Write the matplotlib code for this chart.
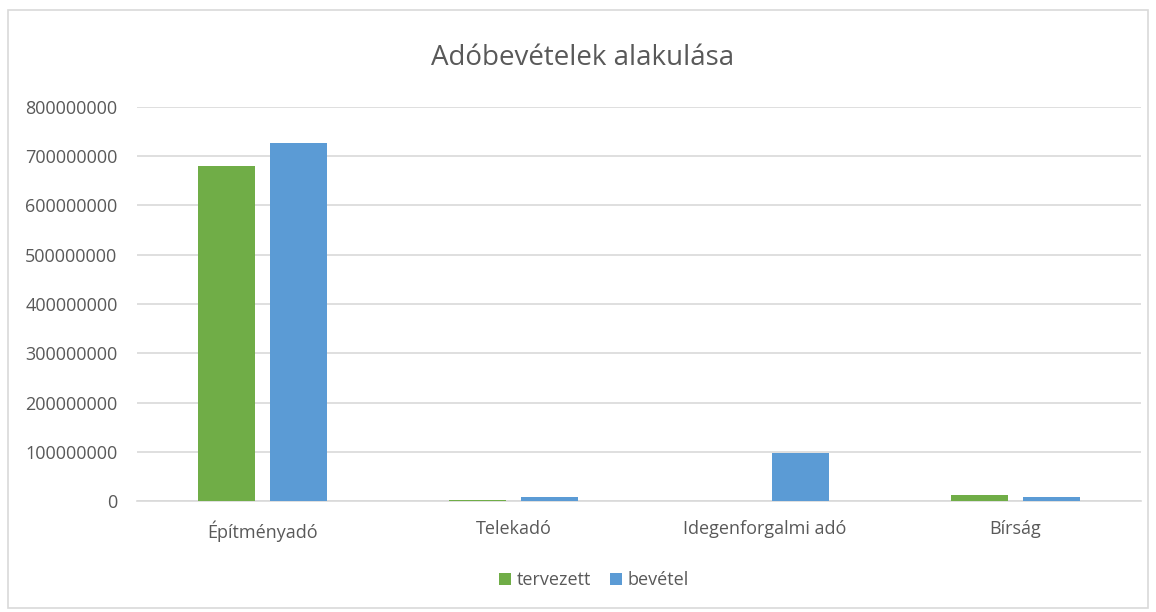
import numpy as np
import matplotlib.pyplot as plt

# Adóbevételek adatai
categories = ['Építményadó', 'Telekadó', 'Idegenforgalmi adó', 'Bírság']
tervezett = [680000000, 3000000, 0, 11500000]
bevetel = [727000000, 8000000, 98000000, 9000000]
yticks = np.arange(0, 800000001, 100000000)

plt.rcParams['font.family'] = ['Open Sans', 'DejaVu Sans']

fig = plt.figure(figsize=(11.56, 6.12), dpi=100)
ax = fig.add_axes([137 / 1156, 1 - 501 / 612, (1141 - 137) / 1156, 394 / 612])

# keret
fig.patches.append(plt.Rectangle((8 / 1156, 1 - 608 / 612), 1140 / 1156, 598 / 612,
                                 transform=fig.transFigure, fill=False,
                                 edgecolor='#d9d9d9', linewidth=1.2))

x = np.arange(len(categories))
w = 0.227
gap = 0.03
ax.bar(x - w / 2 - gap, tervezett, w, color='#70ad47', label='tervezett', zorder=3)
ax.bar(x + w / 2 + gap, bevetel, w, color='#5b9bd5', label='bevétel', zorder=3)

ax.set_xlim(-0.5, len(categories) - 0.5)
ax.set_ylim(0, 800000000)
ax.set_yticks(yticks)
ax.set_yticklabels([str(v) for v in yticks])
ax.set_xticks(x)
ax.set_xticklabels(categories)
ax.yaxis.grid(True, color='#d9d9d9', linewidth=1.2, zorder=0)
ax.tick_params(axis='both', length=0, labelsize=13, colors='#595959')
ax.tick_params(axis='y', pad=14)
ax.tick_params(axis='x', pad=14)
for s in ['top', 'right', 'left']:
    ax.spines[s].set_visible(False)
ax.spines['bottom'].set_color('#d9d9d9')
ax.spines['bottom'].set_linewidth(1.2)

fig.text(583 / 1156, 1 - 58 / 612, 'Adóbevételek alakulása', ha='center', va='center',
         fontsize=20, color='#595959')

fig.legend(loc='center', bbox_to_anchor=(594 / 1156, 1 - 580 / 612), ncol=2, frameon=False,
           fontsize=13, labelcolor='#595959', handlelength=0.66, handleheight=0.66,
           handletextpad=0.3, columnspacing=1.1)

fig.savefig('out.png', dpi=100)
